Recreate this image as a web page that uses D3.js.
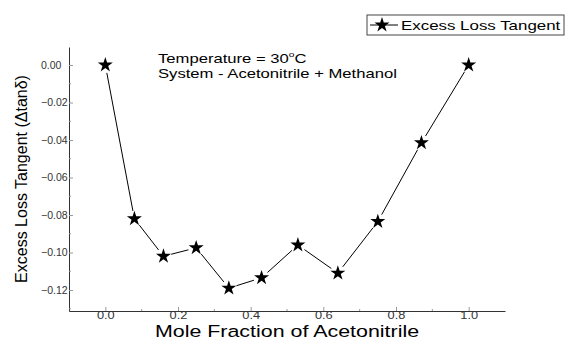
<!DOCTYPE html>
<html>
<head>
<meta charset="utf-8">
<script src="https://cdn.jsdelivr.net/npm/d3@7"></script>
<style>
  body { margin: 0; background: #fff; }
  text { font-family: "Liberation Sans", Arial, sans-serif; }
</style>
</head>
<body>
<div id="chart"></div>
<script>
// data
const moleFraction = [0.0, 0.08, 0.16, 0.25, 0.34, 0.43, 0.53, 0.64, 0.75, 0.87, 1.0];
const lossTangent = [0.0, -0.082, -0.102, -0.0975, -0.119, -0.1135, -0.096, -0.111, -0.0835, -0.0415, 0.0];
const xTicks = [0.0, 0.2, 0.4, 0.6, 0.8, 1.0];
const yTicks = [0.00, -0.02, -0.04, -0.06, -0.08, -0.10, -0.12];

let width = 569, height = 340;
let margin = ({ top: 47, right: 64, bottom: 29, left: 69 });

// the source picture is stretched sideways, so horizontal texts get this factor
let stretch = 1.28;

let data = moleFraction.map((m, i) => ({ x: m, y: lossTangent[i] }));

let x = d3.scaleLinear()
    .domain([-0.1, 1.1])
    .range([margin.left, width - margin.right]);

let y = d3.scaleLinear()
    .domain([-0.1312, 0.0096])
    .range([height - margin.bottom, margin.top]);

let svg = d3.select("#chart")
    .append("svg")
    .attr("width", width)
    .attr("height", height);

// x axis (ticks pointing inward)
let xAxis = g => g
    .attr("transform", `translate(0,${height - margin.bottom})`)
    .call(d3.axisBottom(x).tickValues(xTicks).tickFormat(d3.format(".1f")).tickSizeInner(-4).tickSizeOuter(0).tickPadding(1))
    .call(g => g.select(".domain").attr("stroke", "#333"))
    .call(g => g.selectAll(".tick line").attr("stroke", "#999"))
    .call(g => g.selectAll("text")
        .style("font-size", "10px")
        .attr("fill", "#333")
        .attr("transform", `scale(${stretch},1)`));

svg.append("g").call(xAxis);

// minor x ticks
svg.append("g")
    .selectAll("line")
    .data([0.1, 0.3, 0.5, 0.7, 0.9])
    .join("line")
    .attr("x1", d => x(d)).attr("x2", d => x(d))
    .attr("y1", height - margin.bottom).attr("y2", height - margin.bottom - 2)
    .attr("stroke", "#999");

// y axis, labels left aligned like the original
let yAxis = g => g
    .attr("transform", `translate(${margin.left},0)`)
    .call(d3.axisLeft(y).tickValues(yTicks).tickFormat(d3.format(".2f")).tickSizeInner(-4).tickSizeOuter(0))
    .call(g => g.select(".domain").attr("stroke", "#333"))
    .call(g => g.selectAll(".tick line").attr("stroke", "#999"))
    .call(g => g.selectAll("text")
        .attr("text-anchor", "start")
        .attr("x", 41 - margin.left)
        .style("font-size", "10.5px")
        .attr("fill", "#333")
        .text(d => d === 0 ? "0.00" : d3.format(".2f")(d)));

svg.append("g").call(yAxis);

// minor y ticks
svg.append("g")
    .selectAll("line")
    .data([-0.01, -0.03, -0.05, -0.07, -0.09, -0.11, -0.13])
    .join("line")
    .attr("x1", margin.left).attr("x2", margin.left + 2)
    .attr("y1", d => y(d)).attr("y2", d => y(d))
    .attr("stroke", "#999");

// connecting segments, shortened so they stop short of the stars
let gap = 8;
let segs = d3.pairs(data).map(([a, b]) => {
    let x1 = x(a.x), y1 = y(a.y), x2 = x(b.x), y2 = y(b.y);
    let len = Math.hypot(x2 - x1, y2 - y1);
    let ux = (x2 - x1) / len, uy = (y2 - y1) / len;
    return [x1 + ux * gap, y1 + uy * gap, x2 - ux * gap, y2 - uy * gap];
});

svg.append("g")
    .attr("stroke", "#000")
    .attr("stroke-width", 1)
    .selectAll("line")
    .data(segs)
    .join("line")
    .attr("x1", d => d[0]).attr("y1", d => d[1])
    .attr("x2", d => d[2]).attr("y2", d => d[3]);

let star = d3.symbol().type(d3.symbolStar).size(70);

svg.append("g")
    .selectAll("path")
    .data(data)
    .join("path")
    .attr("transform", d => `translate(${x(d.x)},${y(d.y)})`)
    .attr("d", star)
    .attr("fill", "#000");

// annotation
let note = svg.append("text")
    .attr("transform", `translate(158,63) scale(${stretch},1)`)
    .style("font-size", "13px")
    .attr("fill", "#000");
note.append("tspan").text("Temperature = 30");
note.append("tspan").text("o").style("font-size", "8px").attr("dy", -6);
note.append("tspan").text("C").attr("dy", 6);

svg.append("text")
    .attr("transform", `translate(158,78) scale(${stretch},1)`)
    .style("font-size", "13px")
    .text("System - Acetonitrile + Methanol");

// legend
let legend = svg.append("g");
legend.append("rect")
    .attr("x", 367).attr("y", 15)
    .attr("width", 197).attr("height", 20)
    .attr("fill", "none")
    .attr("stroke", "#444");
legend.append("line")
    .attr("x1", 370).attr("x2", 398)
    .attr("y1", 25).attr("y2", 25)
    .attr("stroke", "#000");
legend.append("path")
    .attr("transform", "translate(382,25)")
    .attr("d", star)
    .attr("fill", "#000");
legend.append("text")
    .attr("transform", `translate(401,30) scale(1.3,1)`)
    .style("font-size", "13px")
    .text("Excess Loss Tangent");

// axis titles
svg.append("text")
    .attr("transform", `translate(${(x(-0.1) + x(1.1)) / 2},337) scale(1.26,1)`)
    .attr("text-anchor", "middle")
    .style("font-size", "17px")
    .text("Mole Fraction of Acetonitrile");

svg.append("text")
    .attr("transform", `translate(27,${(y(0.0096) + y(-0.1312)) / 2}) rotate(-90)`)
    .attr("text-anchor", "middle")
    .style("font-size", "16px")
    .text("Excess Loss Tangent (\u0394tan\u03b4)");
</script>
</body>
</html>
